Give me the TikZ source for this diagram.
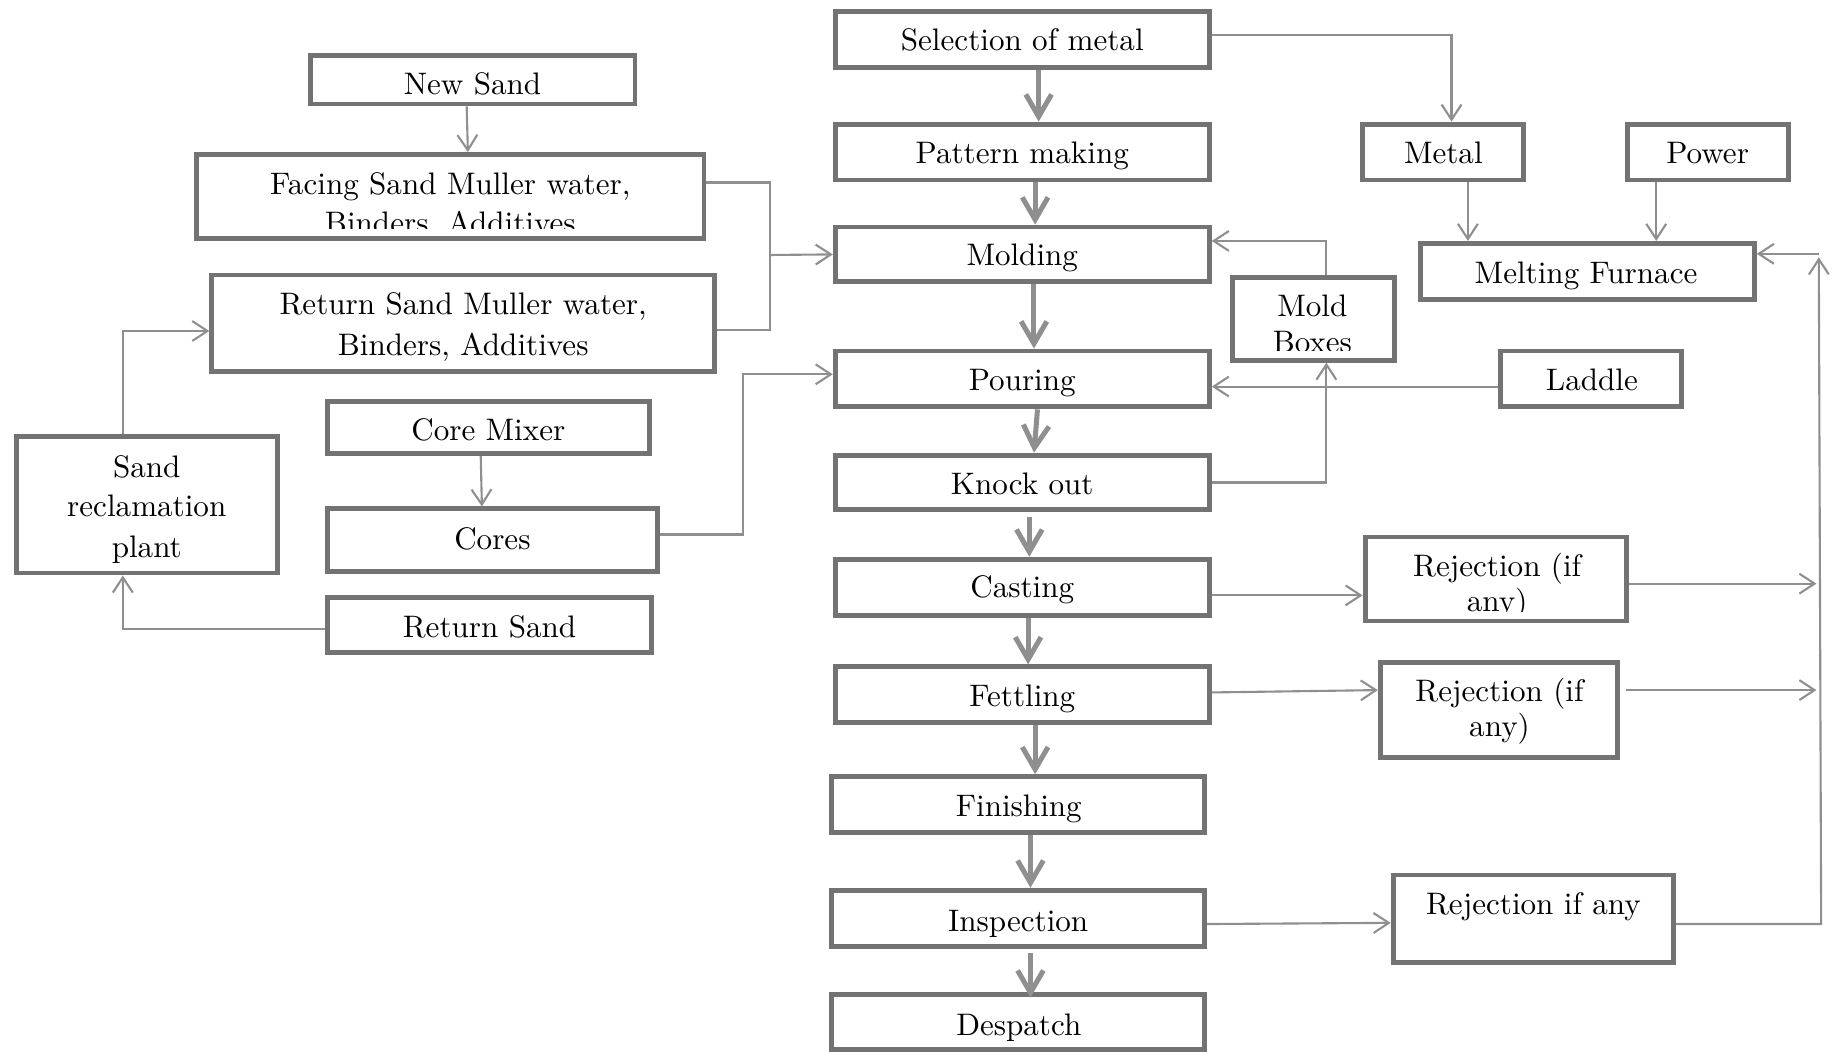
\documentclass[tikz,border=0pt]{standalone}
\usepackage{fontspec}
\setmainfont{lmroman10-regular.otf}
\usetikzlibrary{arrows.meta}
\definecolor{boxc}{gray}{0.45}
\definecolor{linec}{gray}{0.56}
\tikzset{
 box/.style={draw=boxc, line width=4.2pt, inner sep=0pt},
 txt/.style={anchor=base, inner sep=0pt, font=\fontsize{26.6}{31}\selectfont},
 conn/.style={draw=linec, line width=1.8pt, -{Straight Barb[length=13pt,width=17pt]}},
 connl/.style={draw=linec, line width=1.8pt},
 flow/.style={draw=linec, line width=4.3pt, -{Straight Barb[length=19pt,width=22pt]}},
}
\newcommand\bbox[5]{\node[box, minimum width={#4-#2-4.2}, minimum height={#5-#3-4.2}] (#1) at ({(#2+#4)/2},{(#3+#5)/2}) {};}
\begin{document}
\begin{tikzpicture}[x=1pt,y=-1pt]
\useasboundingbox (0,0) rectangle (1568,900);
% central column
\bbox{sel}{712}{8}{1036}{60}
\bbox{pat}{712}{104}{1036}{156}
\bbox{mol}{712}{192}{1036}{243}
\bbox{pour}{712}{298}{1036}{350}
\bbox{ko}{712}{387}{1036}{438}
\bbox{cast}{712}{476}{1036}{528}
\bbox{fet}{712}{568}{1036}{620}
\bbox{fin}{709}{662}{1032}{714}
\bbox{insp}{709}{759}{1032}{811}
\bbox{desp}{709}{848}{1032}{899}
% left
\bbox{ns}{263}{45}{545}{91}
\bbox{fac}{166}{130}{604}{206}
\bbox{ret}{179}{233}{613}{320}
\bbox{cm}{278}{341}{557}{390}
\bbox{cores}{278}{433}{564}{491}
\bbox{src}{12}{371}{239}{492}
\bbox{rs}{278}{509}{559}{560}
% right
\bbox{metal}{1163}{104}{1305}{156}
\bbox{power}{1389}{104}{1531}{156}
\bbox{mf}{1212}{206}{1502}{258}
\bbox{mb}{1052}{235}{1194}{310}
\bbox{lad}{1281}{298}{1440}{350}
\bbox{rja}{1165}{457}{1393}{533}
\bbox{rjb}{1178}{564}{1385}{650}
\bbox{rjc}{1189}{746}{1433}{825}
% texts
\node[txt] (tsel) at (874,43.5) {Selection of metal};
\node[txt] (tpat) at (874,140) {Pattern making};
\node[txt] (tmol) at (874,227) {Molding};
\node[txt] (tpour) at (874,334) {Pouring};
\node[txt] (tko) at (874,423) {Knock out};
\node[txt] (tcast) at (874,511) {Casting};
\node[txt] (tfet) at (874,604) {Fettling};
\node[txt] (tfin) at (871,698) {Finishing};
\node[txt] (tinsp) at (870.5,796) {Inspection};
\node[txt] (tdesp) at (871,885) {Despatch};
\node[txt] (tns) at (404,81) {New Sand};
\node[txt] (tfac1) at (385,166) {Facing Sand Muller water,};
\begin{scope}
\clip (168,132) rectangle (602,195);
\node[txt] (tfac2) at (385,200) {Binders, Additives};
\end{scope}
\node[txt] (tret1) at (396,269) {Return Sand Muller water,};
\node[txt] (tret2) at (396,304) {Binders, Additives};
\node[txt] (tcm) at (417.5,377) {Core Mixer};
\node[txt] (tcores) at (421,470) {Cores};
\node[txt] (tsrc1) at (125.5,408) {Sand};
\node[txt] (tsrc2) at (125.5,442) {reclamation};
\node[txt] (tsrc3) at (125.5,477) {plant};
\node[txt] (trs) at (418.5,545) {Return Sand};
\node[txt] (tmetal) at (1234,140) {Metal};
\node[txt] (tpower) at (1460,140) {Power};
\node[txt] (tmf) at (1356,242) {Melting Furnace};
\node[txt] (tmb1) at (1122,271) {Mold};
\begin{scope}
\clip (1054,237) rectangle (1192,299.8);
\node[txt] (tmb2) at (1122,301.4) {Boxes};
\end{scope}
\node[txt] (tlad) at (1361,334) {Laddle};
\node[txt] (trja1) at (1280,493) {Rejection (if};
\begin{scope}
\clip (1167,459) rectangle (1391,522.5);
\node[txt] (trja2) at (1280,522.5) {any)};
\end{scope}
\node[txt] (trjb1) at (1282,600) {Rejection (if};
\node[txt] (trjb2) at (1282,630) {any)};
\node[txt] (trjc) at (1311,782) {Rejection if any};
% main flow
\draw[flow] ([xshift=14pt]sel.south) -- ([xshift=14pt]pat.north);
\draw[flow] ([xshift=11pt]pat.south) -- ([xshift=11pt]mol.north);
\draw[flow] ([xshift=10pt]mol.south) -- ([xshift=10pt]pour.north);
\draw[flow] ([xshift=13pt]pour.south) -- ([xshift=10pt]ko.north);
\draw[flow] ([xshift=6pt,yshift=-4pt]ko.south) -- ([xshift=6pt]cast.north);
\draw[flow] ([xshift=5pt]cast.south) -- ([xshift=5pt]fet.north);
\draw[flow] ([xshift=11pt]fet.south) -- ([xshift=14.5pt]fin.north);
\draw[flow] ([xshift=10.5pt]fin.south) -- ([xshift=10.5pt]insp.north);
\draw[flow] ([xshift=10.5pt,yshift=-4pt]insp.south) -- ([xshift=10.5pt,yshift=-5pt]desp.north);
% side connectors
\draw[conn] ([yshift=4pt]sel.east) -| ([xshift=7pt]metal.north);
\draw[conn] ([xshift=-5pt]ns.south) -- ([xshift=15pt]fac.north);
\coordinate (j1) at (658,218);
\draw[connl] ([yshift=12pt]fac.east) -| (j1) |- ([yshift=-5.5pt]ret.east);
\draw[conn] (j1) -- (mol.west);
\draw[conn] ([xshift=-20.5pt]src.north) |- ([yshift=-6.5pt]ret.west);
\draw[conn] ([yshift=-3.5pt]rs.west) -| ([xshift=-20.5pt]src.south);
\draw[conn] ([xshift=-6.5pt]cm.south) -- ([xshift=-9pt]cores.north);
\coordinate (j2) at (635,400);
\draw[conn] ([yshift=5pt]cores.east) -| (j2) |- ([yshift=4pt]pour.west);
\draw[conn] ([xshift=11pt]mb.north) |- ([yshift=11.5pt]mol.east);
\draw[conn] (ko.east) -| ([xshift=11pt]mb.south);
\draw[conn] ([yshift=-6.5pt]lad.west) -- ([yshift=-6.5pt]pour.east);
\draw[conn] ([xshift=21pt]metal.south) -- ([xshift=-102pt]mf.north);
\draw[conn] ([xshift=-44pt]power.south) -- ([xshift=59pt]mf.north);
\draw[conn] ([yshift=-7pt]cast.east) -- ([yshift=-14pt]rja.west);
\draw[conn] ([yshift=2pt]fet.east) -- ([yshift=17pt]rjb.west);
\draw[conn] ([yshift=-5pt]insp.east) -- ([yshift=-3.5pt]rjc.west);
\coordinate (e1) at (1553,499);
\coordinate (e2) at (1553,590);
\draw[conn] ([yshift=-4pt]rja.east) -- (e1);
\draw[conn] ([xshift=5pt,yshift=17pt]rjb.east) -- (e2);
\coordinate (c1) at (1557,790);
\coordinate (c2) at (1555,220);
\draw[conn] ([yshift=-4.5pt]rjc.east) -- (c1) -- (c2);
\coordinate (c3) at (1555,217);
\draw[conn] (c3) -- ([yshift=15pt]mf.east);
\end{tikzpicture}
\end{document}
